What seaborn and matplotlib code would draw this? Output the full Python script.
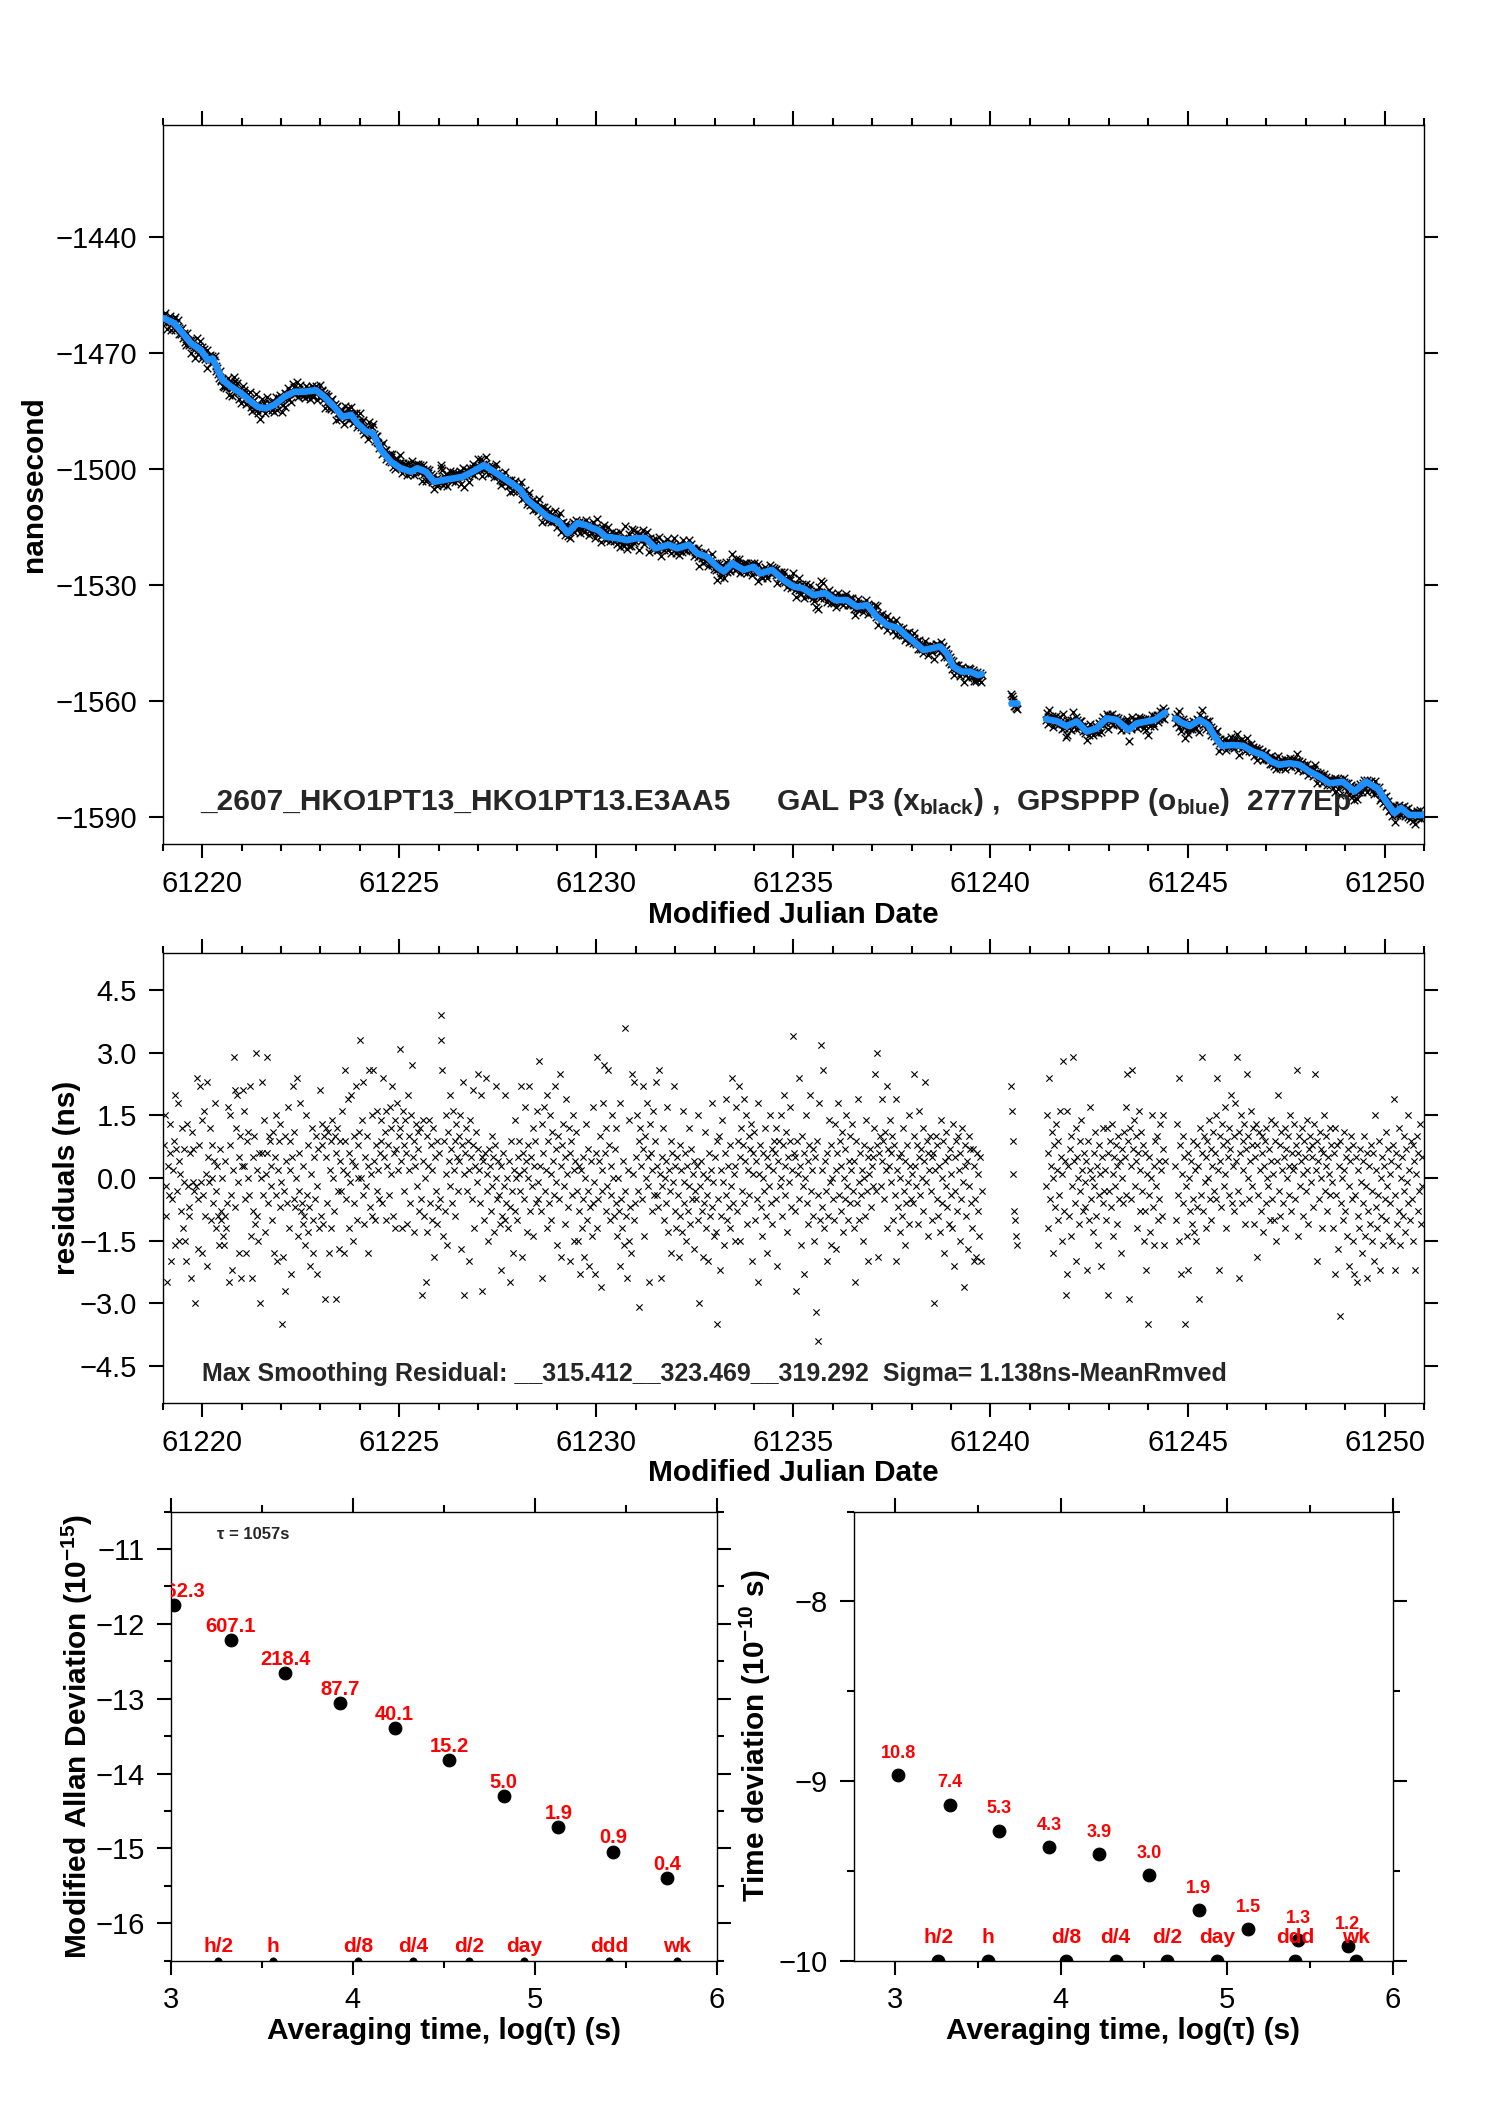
import numpy as np
import pandas as pd
import matplotlib
matplotlib.use("Agg")
import matplotlib.pyplot as plt
import seaborn as sns
from matplotlib.ticker import MultipleLocator, ScalarFormatter

# ---------------- data ----------------
# epoch grid (segments separated by data gaps)
seg_start = [61219.03, 61240.52, 61241.41, 61244.69]
epoch_step = 1.0 / 48.0

# residuals (ns) for each segment
res_a = [
 0.8, 1.5, -0.2, -0.9, -2.5, 0.3, -0.4, 1.3, 0.6, -2.0, -0.5, 0.2, 0.9, -1.6, 2.0, 0.7, -0.3, 1.8, -1.5, 0.4, 0.1, -0.8, 1.2, -1.2,
 -0.1, 0.7, -1.5, -2.0, 1.3, -0.2, -0.7, -0.9, 0.6, -2.4, 1.1, -0.1, 0.7, -0.3, -3.0, -0.2, 2.4, -1.7, -0.5, 0.8, 2.2, -0.1, -1.8, 1.4,
 -0.4, 1.6, -0.9, 0.1, 2.3, -2.1, 0.5, -0.1, 1.2, -1.0, 0.0, 0.8, -0.6, 0.4, 1.8, -0.3, -1.2, 0.3, -0.9, -1.6, 0.7, -1.0, -0.8, 0.0,
 -1.4, -1.6, -0.9, 0.4, -1.2, -0.6, 1.7, -2.5, 0.8, 1.5, -0.4, -2.2, 0.2, 2.9, 2.1, -0.7, 1.2, 2.0, -0.1, 0.5, -1.8, 1.0, -2.4, 0.3,
 2.1, 0.3, 1.6, -0.5, -1.8, 0.9, 1.1, 0.0, -0.4, 2.2, -1.4, -2.4, 0.5, -0.8, 1.0, -1.1, 3.0, 0.2, -0.9, -1.5, 0.6, -3.0, 0.0, 2.3,
 0.6, -0.4, 1.4, -1.3, 0.1, 0.6, 2.9, -0.6, 1.0, 0.9, -0.2, 0.3, -1.0, 1.1, -1.8, 0.5, -0.4, 1.5, -2.0, 0.2, 0.9, -0.7, 1.3, -0.1,
 -3.5, -1.9, -0.3, 1.0, -2.7, 0.4, -0.6, 1.7, -1.2, 0.9, 0.2, -2.3, 0.5, 2.2, -0.5, 1.1, -0.7, 0.0, 2.4, -1.4, 0.6, -0.3, 1.8, -0.8,
 -0.6, -1.1, 0.3, -0.9, -1.6, 1.5, -0.4, -1.3, 0.8, -0.7, -2.1, 0.1, 1.2, -1.0, -1.8, 0.5, -0.5, 1.0, -2.3, -0.2, 0.7, -1.2, 2.1, -0.9,
 0.8, 1.3, -1.1, 1.0, -2.9, 0.5, 1.2, -0.6, 1.1, -1.8, 0.2, 0.9, -1.2, 1.4, 0.0, -0.8, 1.0, -2.9, 0.6, 1.2, -0.3, -1.7, 0.9, 0.4,
 -0.3, 1.6, 0.2, -1.8, 0.9, 2.6, -0.5, 0.1, 1.9, -1.2, 0.6, -0.1, 2.0, 0.4, -1.5, 1.0, -0.6, 0.3, 2.2, -1.0, 0.8, 0.0, 1.1, 3.3,
 0.0, 1.4, -0.4, 2.3, -1.1, 0.5, -0.2, 1.0, -1.8, 0.3, 2.6, -0.7, 0.1, 1.5, -0.9, 2.6, 0.4, -1.0, 0.8, -0.3, 1.6, 0.2, -0.5, 0.6,
 0.9, 1.4, -0.6, 2.4, 0.5, 1.1, -1.0, 1.6, 0.3, 0.8, -0.4, 1.7, 1.2, 0.1, 2.2, -0.9, 0.6, 1.4, -1.2, 0.7, 1.8, 0.2, 1.0, 3.1,
 1.2, 0.4, -1.2, 1.6, 0.8, -0.3, 1.4, 0.6, -1.1, 2.0, 0.2, 1.0, -0.6, 1.5, 2.7, 0.5, -1.3, 0.9, 0.3, 1.3, -0.2, 0.7, 1.1, -0.8,
 1.2, -0.5, -2.8, 0.4, 1.4, -0.9, 0.0, -2.5, 1.0, -1.3, 0.3, 1.4, -0.6, 0.8, -1.0, 0.2, 1.2, -1.9, 0.5, -0.3, -1.1, 0.9, -0.7, 0.6,
 -0.5, 3.9, 3.3, 2.6, -1.4, 0.9, -0.8, 1.5, 0.1, -1.6, 1.1, 0.4, -0.2, 2.0, 0.7, -0.6, 1.6, 0.2, 0.9, -0.9, 1.3, 0.5, -0.3, 1.0,
 0.4, 1.5, -1.7, 0.8, 2.3, 0.1, -2.8, 0.6, 1.2, -0.3, 0.9, -2.0, 0.2, 1.4, 0.5, -0.5, 2.1, 0.8, -1.2, 0.3, 1.1, -0.1, 0.7, 2.5,
 0.2, -0.6, 2.0, 0.5, -2.7, 0.4, -1.0, 0.6, 2.4, -0.3, 0.1, -1.5, 0.7, 0.3, -0.8, 1.0, -0.2, 0.5, -1.3, 0.8, 2.2, 0.0, -0.5, 0.4,
 -0.4, -1.1, 0.3, -2.2, -0.9, 0.6, -0.2, -1.0, 2.0, -0.6, 0.0, -1.2, 0.4, -2.5, -0.7, 0.9, -0.3, -1.8, 0.2, -0.8, 1.4, 0.0, -1.0, 0.5,
 0.1, 0.9, -0.3, 2.2, -1.9, 0.6, 0.2, -0.5, 1.7, 0.4, -1.3, 0.8, 0.0, 2.2, -0.8, 0.5, -0.2, 1.2, -1.4, 0.3, 0.9, -0.6, 1.6, -0.1,
 -0.5, 2.8, 0.3, -0.8, 1.3, -2.4, 0.6, 1.7, -0.3, 0.2, -1.2, 2.0, 0.9, -0.6, 1.5, 0.1, -1.0, 1.1, 0.4, -0.4, 2.2, -0.1, 0.7, -1.6,
 1.0, -0.5, 2.5, 0.3, -1.9, 0.8, 1.3, -0.2, 0.5, -1.1, 1.9, 0.1, -0.7, 1.2, 0.6, -2.0, 0.9, -0.4, 1.5, 0.2, -1.5, 0.4, 1.1, -0.3,
 -1.5, 0.3, -0.8, -2.3, 0.2, -1.2, 0.5, -0.5, -1.9, 0.0, 1.3, -1.0, -0.3, 0.7, -2.1, -0.7, 0.4, -1.4, 1.7, -0.6, -0.1, -2.3, 0.6, -1.2,
 2.9, -0.5, 0.4, 1.0, -2.6, 0.2, -0.3, 1.8, 2.7, 0.6, -0.8, 1.2, -0.2, 2.6, 0.8, -1.0, 0.3, -0.4, 1.5, 0.0, -0.9, 0.7, 1.2, -0.6,
 -1.4, 0.0, -0.8, -2.1, 1.8, -0.5, -1.2, 0.4, -1.6, 3.6, -0.3, -0.9, -2.4, 0.2, -1.5, 1.4, -0.7, -1.8, 2.5, 0.1, -1.0, 2.3, -0.6, 0.5,
 1.5, -0.3, 0.9, -3.1, 1.2, 0.3, -0.5, 2.2, 0.7, -1.4, 1.0, 0.0, 1.8, -0.2, 0.5, -2.5, 1.3, 0.6, -0.8, 0.2, 1.6, -0.4, 0.9, 2.3,
 -0.4, 0.3, -0.7, 2.6, 0.1, -2.4, 0.5, -0.2, 1.2, -1.0, 0.0, 0.4, -0.6, 1.7, -1.3, 0.2, -0.3, 0.9, -1.8, 0.6, -0.1, 2.2, -0.8, 0.3,
 -1.2, 0.5, -0.4, -1.9, 0.8, -0.9, 0.2, -1.3, 1.6, -0.6, -0.1, 0.6, -1.5, 0.3, -0.8, 1.2, -0.2, -1.1, 0.7, -0.5, 0.1, -1.7, 0.4, -0.3,
 -0.5, 0.3, -1.0, 1.5, -3.0, -0.2, 0.4, -0.8, -1.9, 0.1, -0.6, 1.1, -1.2, 0.0, -0.4, -2.0, 0.6, -0.9, 0.2, 1.8, -0.7, -0.1, -1.4, 0.5,
 -1.3, 0.9, -3.5, -0.5, 1.0, -2.2, 0.2, -0.9, 1.4, -0.1, -1.6, 0.6, -0.4, 1.9, -1.0, 0.3, -0.7, -1.2, 0.8, -0.2, 2.4, -0.6, 0.1, -1.5,
 0.3, 1.7, -0.8, 0.9, 2.2, -1.5, 0.5, 1.2, -0.3, 0.8, 1.9, -0.6, 0.4, 1.5, -1.1, 0.2, 1.0, -0.4, 0.7, 1.3, -2.0, 0.6, 0.1, 1.1,
 -1.0, 0.4, -0.5, 1.8, -2.5, 0.1, 0.8, -0.7, -1.4, 0.6, 0.0, -0.3, 1.2, -0.9, 0.5, -1.8, 0.3, -0.2, 1.5, -0.6, 0.7, -1.1, 0.2, 0.9,
 0.6, -0.5, 1.2, -2.1, 0.4, 0.9, -0.2, 1.5, 0.0, -0.9, 0.8, 2.0, -0.4, 0.3, 1.1, -1.3, 0.5, -0.1, 0.9, 1.7, -0.7, 0.2, 3.4, 0.6,
 -0.8, 0.5, -2.7, 0.9, 0.1, 2.4, -0.5, 0.3, -1.6, 1.0, -0.2, 0.6, -2.3, 0.0, 1.5, -0.6, 0.4, -1.1, 0.8, 2.0, -0.3, 0.2, -0.9, 0.7,
 -1.5, 0.5, -3.2, 0.9, -0.4, -3.9, 1.8, -1.0, 3.2, 0.2, -0.7, 2.6, -1.2, 0.4, -0.3, -2.0, 0.6, -0.9, 1.4, -0.1, -1.6, 0.8, 0.0, -0.5,
 -1.0, 1.3, 0.2, -1.7, 0.6, 1.8, -0.4, 0.9, -0.8, 0.3, 1.1, -1.3, 0.0, 0.7, -0.5, 1.5, -0.2, -1.0, 0.4, 1.0, -0.6, 0.2, 1.3, -0.3,
 -1.2, 0.4, -2.5, 0.9, -0.6, 1.9, -0.1, -1.0, 0.6, -0.4, 0.2, -1.5, 0.8, 0.0, -0.9, 1.4, -0.3, 0.5, -2.0, 0.1, 0.7, -0.7, 0.3, -0.2,
 0.5, 1.2, 2.5, -0.3, 0.8, 3.0, -1.9, 0.6, 1.0, -0.2, 0.4, 1.9, 0.9, -0.5, 1.1, 0.2, 2.2, -1.2, 0.7, 0.3, 1.4, -0.1, 0.6, 1.0,
 -1.0, 0.8, -0.4, 1.9, -2.0, 0.2, -0.7, 0.5, -1.3, 0.0, 0.6, -0.9, 1.2, -0.3, -1.6, 0.4, -0.6, 0.8, -0.1, -1.1, 1.5, 0.3, -0.5, 0.1,
 -0.6, 1.0, 2.5, 0.3, -0.2, 0.8, -1.1, 0.5, 1.6, -0.4, 0.7, 0.0, 1.2, -0.8, 0.4, 2.3, -0.1, 0.9, -1.4, 0.6, 0.2, 1.0, -0.3, 0.5,
 -1.0, 0.6, -3.0, 0.2, 1.0, -0.5, 0.8, -0.9, 0.3, -1.3, 1.4, 0.0, -0.6, 0.9, -1.8, 0.4, -0.2, 1.1, -0.7, 0.5, -1.1, 0.7, 0.1, -0.4,
 -1.2, 1.3, -2.1, 0.5, -0.3, 0.9, -0.8, 1.0, 0.2, -1.5, 0.6, -0.5, 1.2, -0.1, -2.6, 0.8, 0.3, -0.9, 0.4, -1.7, 1.0, -0.2, 0.7, -0.6,
 -1.2, 0.7, -2.0, 0.3, -0.5, -1.9, 0.6, -0.8, 0.1, -1.4, 0.5, -2.0, -0.3,
]
res_b = [2.2, 1.6, 0.9, 0.1, -0.8, -1.0, -1.4, -1.6]
res_c = [
 -0.2, 1.5, -1.2, 0.6, 2.4, -0.5, 0.3, 1.1, -1.8, 0.0, 0.8, -0.7, 1.3, 0.2, -1.0, 0.9, -0.4, 1.6, 0.5, -1.5, 0.1, 2.8, -0.8, 0.4,
 -2.8, -2.3, 1.6, 0.3, -0.9, 0.7, -1.4, 1.0, -0.2, 2.9, 0.4, -0.6, 1.2, -2.0, 0.5, 0.0, -1.1, 0.9, -0.3, 1.4, 0.2, -0.8, 0.6, -0.1,
 -0.7, 0.4, -2.2, 0.9, -1.0, 0.2, 1.7, -0.5, 0.0, -1.3, 0.6, -0.2, 1.1, -0.9, 0.3, -1.6, 0.8, -0.4, 0.1, -2.1, 0.5, -0.6, 1.2, -0.3,
 0.2, -1.0, 1.2, -2.8, 0.6, -0.3, 0.9, -0.7, 1.3, 0.1, -1.4, 0.5, -0.2, 0.8, -1.1, 0.3, 1.0, -0.5, 0.4, -1.8, 0.7, 0.0, -0.6, 1.1,
 0.5, 1.7, -0.4, 2.5, 0.9, -2.9, 1.2, 0.3, -0.5, 2.6, 0.7, 1.4, -0.2, 0.4, 1.0, -1.2, 0.6, 1.6, -0.8, 0.2, 1.1, -0.3, 0.8, -1.5,
 -0.8, 0.6, -2.2, 0.1, -3.5, -0.4, 0.5, -1.3, 0.0, 1.5, -0.7, 0.3, -1.6, 0.9, -0.2, 1.0, -1.0, 0.4, -0.5, 1.3, 0.2, -0.9, 0.7, 1.5,
 -1.6, 0.4,
]
res_d = [
 0.3, -1.0, 1.3, -0.4, 2.4, -1.5, 0.8, -2.3, 0.1, 1.0, -0.6, 0.5, -3.5, -0.2, -1.4, 0.6, -2.2, 0.0, -0.8, 0.4, -1.1, 0.9, -0.5, -1.3,
 0.2, -1.5, 0.8, -0.7, 0.3, -2.9, 1.2, -0.4, 2.9, 0.6, -0.8, 1.0, -0.1, 0.5, -1.2, 0.9, 0.0, 1.4, -0.5, 0.7, -1.0, 0.3, 1.1, -0.3,
 0.6, 1.5, -0.5, 2.4, 0.2, -2.2, 1.0, 0.4, -0.7, 1.3, 0.8, -0.2, 1.7, 0.1, -1.2, 0.9, 0.5, 1.2, -0.4, 0.7, 2.0, -0.6, 0.3, 1.0,
 -0.8, 1.8, 0.4, 2.9, -0.3, 1.1, -2.4, 0.6, 1.5, -0.6, 0.9, 0.2, 1.3, -1.1, 0.7, 2.5, 0.0, 1.0, -0.5, 0.4, 1.6, -0.2, 0.8, 1.2,
 -1.1, 0.5, 1.3, -1.9, 0.8, -0.4, 1.1, 0.2, -0.8, 0.6, 1.0, -1.3, 0.3, 0.9, -0.6, 1.2, 0.0, -0.2, 0.7, -1.0, 0.4, 1.4, -0.5, 0.1,
 -1.0, 0.9, 1.3, -1.5, 0.4, 2.0, -0.3, 0.8, -0.9, 1.1, 0.2, -0.6, 0.5, 1.2, -1.2, 0.7, 0.0, 1.0, -0.4, 0.3, 1.5, -0.8, 0.6, 0.2,
 0.3, 1.3, -0.5, 0.8, 2.6, -1.4, 0.6, 1.0, -0.2, 0.4, 1.2, 0.1, -0.9, 0.9, 0.5, -0.3, 1.4, 0.2, -1.1, 0.7, 1.0, -0.1, 0.5, 0.8,
 -0.7, 1.3, 2.5, 0.2, -2.0, 0.9, 0.4, -0.5, 1.1, 0.0, 0.7, -1.2, 0.6, 1.5, -0.3, 0.3, 1.0, -0.8, 0.5, 0.1, 1.2, -0.4, 0.8, -0.1,
 -1.2, 0.6, -2.3, 1.2, -0.4, 0.8, -1.7, 0.3, -3.3, 0.9, -0.6, 0.0, -1.0, 1.1, 0.2, -0.8, 0.5, -1.4, 0.7, -0.2, -2.1, 0.4, 1.0, -0.5,
 -1.5, 0.8, -2.3, -0.4, 0.5, -2.5, -0.9, 0.2, -1.2, 0.7, -0.1, -1.8, 0.4, -0.6, 1.0, -1.4, -0.2, 0.6, -2.4, -0.8, 0.3, -1.1, 0.8, -0.3,
 -1.5, 0.6, -2.0, 1.5, -0.7, 0.2, -1.2, -0.4, 0.9, -2.2, 0.0, -0.9, 0.5, -1.6, 0.3, -0.5, 1.1, -1.0, -0.2, 0.7, -1.4, 0.1, -0.6, 0.4,
 -1.5, 0.8, 1.9, -2.2, -0.4, 0.6, -1.1, 0.3, -0.8, 1.2, -1.6, 0.0, 0.5, -0.9, 1.0, -0.3, -1.3, 0.7, -0.1, 1.5, -0.6, 0.2, -1.0, 0.9,
 -0.5, 0.8, -1.5, 0.4, -2.2, 0.1, 1.0, -0.8, 0.6, -0.3, 1.3, -1.1, 0.5, -0.2,
]

# smoothed clock offset (blue, ns), knots
smooth_t_a = [61219.03, 61219.30, 61219.51, 61219.72, 61219.97, 61220.14, 61220.27, 61220.40, 61220.52, 61220.73,
              61220.99, 61221.20, 61221.41, 61221.62, 61221.83, 61222.09, 61222.34, 61222.59, 61222.89, 61223.10,
              61223.35, 61223.56, 61223.78, 61223.94, 61224.16, 61224.33, 61224.54, 61224.79, 61225.04, 61225.30,
              61225.46, 61225.68, 61225.89, 61226.14, 61226.39, 61226.61, 61226.86, 61227.15, 61227.41, 61227.66,
              61227.91, 61228.08, 61228.25, 61228.51, 61228.76, 61229.05, 61229.27, 61229.52, 61229.73, 61229.90,
              61230.05, 61230.24, 61230.53, 61230.79, 61231.00, 61231.25, 61231.50, 61231.84, 61232.05, 61232.35,
              61232.56, 61232.81, 61233.07, 61233.24, 61233.45, 61233.74, 61233.99, 61234.16, 61234.46, 61234.75,
              61235.01, 61235.26, 61235.51, 61235.81, 61236.06, 61236.36, 61236.61, 61236.87, 61237.12, 61237.37,
              61237.67, 61237.84, 61238.05, 61238.30, 61238.55, 61238.72, 61238.89, 61239.06, 61239.27, 61239.48,
              61239.69, 61239.78]
smooth_v_a = [-1461.0, -1462.3, -1464.9, -1467.5, -1469.2, -1471.8, -1471.4, -1474.4, -1477.0, -1478.7,
              -1480.4, -1482.2, -1483.9, -1484.3, -1483.4, -1481.3, -1480.0, -1480.0, -1479.6, -1481.3,
              -1483.9, -1486.5, -1486.0, -1488.2, -1490.3, -1490.7, -1495.1, -1498.1, -1499.8, -1500.7,
              -1499.8, -1500.7, -1503.3, -1502.8, -1502.4, -1502.0, -1500.7, -1499.0, -1500.7, -1502.4,
              -1504.1, -1505.4, -1508.0, -1510.2, -1512.3, -1513.6, -1516.6, -1514.0, -1514.5, -1515.3,
              -1515.8, -1517.5, -1517.9, -1518.4, -1517.9, -1517.9, -1520.5, -1519.6, -1520.5, -1519.6,
              -1521.8, -1522.7, -1525.3, -1526.5, -1524.4, -1526.1, -1525.3, -1527.0, -1526.1, -1528.7,
              -1530.4, -1530.9, -1532.6, -1532.1, -1533.9, -1533.9, -1535.6, -1535.2, -1538.2, -1540.3,
              -1541.2, -1542.9, -1544.6, -1546.8, -1546.3, -1545.9, -1547.6, -1551.1, -1552.4, -1552.4,
              -1553.3, -1553.0]
smooth_t_b = [61240.52, 61240.67]
smooth_v_b = [-1560.4, -1560.4]
smooth_t_c = [61241.41, 61241.68, 61241.93, 61242.19, 61242.44, 61242.69, 61242.95, 61243.20, 61243.50, 61243.71,
              61243.96, 61244.17, 61244.43]
smooth_v_c = [-1564.7, -1565.2, -1566.5, -1565.3, -1567.9, -1567.1, -1564.5, -1564.9, -1567.5, -1565.8,
              -1565.3, -1564.9, -1563.0]
smooth_t_d = [61244.69, 61244.85, 61245.06, 61245.31, 61245.52, 61245.69, 61245.86, 61246.15, 61246.41, 61246.66,
              61246.92, 61247.13, 61247.34, 61247.59, 61247.84, 61248.10, 61248.35, 61248.60, 61248.94, 61249.24,
              61249.53, 61249.83, 61250.04, 61250.25, 61250.42, 61250.63, 61250.96]
smooth_v_d = [-1564.5, -1565.6, -1566.5, -1564.9, -1566.2, -1569.2, -1571.6, -1571.4, -1571.6, -1573.1,
              -1574.0, -1575.7, -1576.5, -1576.1, -1576.5, -1578.3, -1579.6, -1581.3, -1580.9, -1583.4,
              -1580.9, -1582.7, -1586.0, -1589.0, -1587.7, -1589.5, -1589.5]

# stability panels
log_tau = [3.02, 3.33, 3.63, 3.93, 4.23, 4.53, 4.83, 5.13, 5.43, 5.73]
mdev_log = [-11.754, -12.217, -12.661, -13.057, -13.397, -13.818, -14.301, -14.721, -15.046, -15.398]
mdev_labels = ["1762.3", "607.1", "218.4", "87.7", "40.1", "15.2", "5.0", "1.9", "0.9", "0.4"]
tdev_log = [-8.967, -9.131, -9.276, -9.367, -9.409, -9.523, -9.721, -9.824, -9.886, -9.921]
tdev_labels = ["10.8", "7.4", "5.3", "4.3", "3.9", "3.0", "1.9", "1.5", "1.3", "1.2"]
span_logtau = [3.26, 3.56, 4.03, 4.33, 4.64, 4.94, 5.41, 5.78]
span_names = ["h/2", "h", "d/8", "d/4", "d/2", "day", "ddd", "wk"]

# ---------------- assemble tables ----------------
res_segs = [res_a, res_b, res_c, res_d]
smooth_segs = [(smooth_t_a, smooth_v_a), (smooth_t_b, smooth_v_b),
               (smooth_t_c, smooth_v_c), (smooth_t_d, smooth_v_d)]
pts = []
lines = []
for i, (t0, res, (kt, kv)) in enumerate(zip(seg_start, res_segs, smooth_segs)):
    t = t0 + np.arange(len(res)) * epoch_step
    sm = np.interp(t, kt, kv)
    pts.append(pd.DataFrame({"mjd": t, "res": res, "clock": sm + np.asarray(res), "seg": i}))
    lines.append(pd.DataFrame({"mjd": kt, "ns": kv, "seg": i}))
pts = pd.concat(pts, ignore_index=True)
lines = pd.concat(lines, ignore_index=True)

# ---------------- style ----------------
sns.set_theme(style="ticks")
plt.rcParams["font.family"] = ["Liberation Sans", "DejaVu Sans"]
plt.rcParams.update({
    "mathtext.fontset": "custom",
    "mathtext.rm": "Liberation Sans",
    "mathtext.bf": "Liberation Sans:bold",
    "mathtext.it": "Liberation Sans:italic",
    "axes.unicode_minus": True,
    "axes.facecolor": "white",
    "figure.facecolor": "white",
})

W, H = 1488, 2105
fig = plt.figure(figsize=(W / 100, H / 100), dpi=100)

def px_axes(l, t, r, b):
    return fig.add_axes([l / W, 1 - b / H, (r - l) / W, (b - t) / H])

def style_axis(ax, xmaj, xmin, ymaj, ymin):
    ax.xaxis.set_major_locator(MultipleLocator(xmaj))
    if xmin:
        ax.xaxis.set_minor_locator(MultipleLocator(xmin))
    ax.yaxis.set_major_locator(MultipleLocator(ymaj))
    if ymin:
        ax.yaxis.set_minor_locator(MultipleLocator(ymin))
    for a in (ax.xaxis, ax.yaxis):
        a.set_major_formatter(ScalarFormatter(useOffset=False))
    ax.tick_params(which="both", direction="out", top=True, right=True,
                   labeltop=False, labelright=False, width=1.5, color="black",
                   labelcolor="black", labelsize=21)
    ax.tick_params(which="major", length=10, pad=8.5)
    ax.tick_params(which="minor", length=5)
    for s in ax.spines.values():
        s.set_visible(True)
        s.set_linewidth(1.0)
        s.set_color("black")
    ax.grid(False)

label_kw = dict(fontsize=21.5, fontweight="bold", color="black")

# ---- top panel: clock offsets ----
ax1 = px_axes(162.7, 125, 1424, 844)
sns.scatterplot(data=pts, x="mjd", y="clock", marker="x", color="black", s=30,
                linewidth=1.0, ax=ax1, legend=False, zorder=2)
sns.lineplot(data=lines, x="mjd", y="ns", units="seg", estimator=None, color="#1E90FF",
             linewidth=4.8, ax=ax1, legend=False, zorder=3, sort=False)
ax1.set_xlim(61219.0, 61251.0)
ax1.set_ylim(-1597.0, -1411.0)
style_axis(ax1, 5, 1, 30, None)
ax1.set_xlabel("Modified Julian Date", **label_kw)
ax1.set_ylabel("nanosecond", **label_kw)
ax1.xaxis.set_label_coords(0.5, -0.079)
ax1.yaxis.set_label_coords(-0.091, 0.5)
ax1.text(0.0296, 0.047, "_2607_HKO1PT13_HKO1PT13.E3AA5", transform=ax1.transAxes,
         fontsize=21.5, fontweight="bold", ha="left", va="baseline", zorder=5)
ax1.text(0.486, 0.047,
         r"GAL P3 (x$_{\mathbf{black}}$) ,  GPSPPP (o$_{\mathbf{blue}}$)  2777Ep",
         transform=ax1.transAxes, fontsize=21.5, fontweight="bold", ha="left",
         va="baseline", zorder=5)

# ---- middle panel: residuals ----
ax2 = px_axes(162.7, 952.8, 1424, 1403.3)
sns.scatterplot(data=pts, x="mjd", y="res", marker="x", color="black", s=20,
                linewidth=0.8, ax=ax2, legend=False)
ax2.set_xlim(61219.0, 61251.0)
ax2.set_ylim(-5.4, 5.4)
style_axis(ax2, 5, 1, 1.5, None)
ax2.set_xlabel("Modified Julian Date", **label_kw)
ax2.set_ylabel("residuals (ns)", **label_kw)
ax2.xaxis.set_label_coords(0.5, -0.123)
ax2.yaxis.set_label_coords(-0.065, 0.5)
ax2.text(0.031, 0.0484,
         "Max Smoothing Residual: __315.412__323.469__319.292  Sigma= 1.138ns-MeanRmved",
         transform=ax2.transAxes, fontsize=18, fontweight="bold", ha="left", va="baseline")

# ---- bottom left: modified Allan deviation ----
ax3 = px_axes(170.8, 1511.6, 716.6, 1960.6)
sns.scatterplot(x=log_tau, y=mdev_log, color="black", s=85, edgecolor="black",
                ax=ax3, legend=False, zorder=3)
sns.scatterplot(x=span_logtau, y=[-16.5] * len(span_logtau), color="black", s=28,
                edgecolor="black", ax=ax3, legend=False, zorder=3)
ax3.set_xlim(3, 6)
ax3.set_ylim(-16.5, -10.5)
style_axis(ax3, 1, 0.5, 1, 0.5)
for x, y, s in zip(log_tau, mdev_log, mdev_labels):
    ax3.annotate(s, (x, y), xytext=(0, 6), textcoords="offset points", ha="center",
                 va="baseline", color="red", fontsize=14.5, fontweight="bold", clip_on=True)
for x, s in zip(span_logtau, span_names):
    ax3.annotate(s, (x, -16.5), xytext=(0, 6), textcoords="offset points", ha="center",
                 va="baseline", color="red", fontsize=15, fontweight="bold")
ax3.text(0.085, 0.939, "τ = 1057s", transform=ax3.transAxes, fontsize=12,
         fontweight="bold", ha="left", va="baseline")
ax3.set_xlabel("Averaging time, log(τ) (s)", **label_kw)
ax3.set_ylabel(r"Modified Allan Deviation (10$^{\mathbf{-15}}$)", **label_kw)
ax3.xaxis.set_label_coords(0.5, -0.126)
ax3.yaxis.set_label_coords(-0.138, 0.5)

# ---- bottom right: time deviation ----
ax4 = px_axes(853.5, 1511.6, 1392.7, 1960.6)
sns.scatterplot(x=log_tau, y=tdev_log, color="black", s=85, edgecolor="black",
                ax=ax4, legend=False, zorder=3)
sns.scatterplot(x=span_logtau, y=[-10.0] * len(span_logtau), color="black", s=85,
                edgecolor="black", ax=ax4, legend=False, zorder=3)
ax4.set_xlim(2.75, 6)
ax4.set_ylim(-10.0, -7.5)
style_axis(ax4, 1, 0.5, 1, 0.5)
for x, y, s in zip(log_tau, tdev_log, tdev_labels):
    ax4.annotate(s, (x, y), xytext=(0, 12.5), textcoords="offset points", ha="center",
                 va="baseline", color="red", fontsize=13, fontweight="bold", clip_on=True)
for x, s in zip(span_logtau, span_names):
    ax4.annotate(s, (x, -10.0), xytext=(0, 12.5), textcoords="offset points", ha="center",
                 va="baseline", color="red", fontsize=15, fontweight="bold")
ax4.set_xlabel("Averaging time, log(τ) (s)", **label_kw)
ax4.set_ylabel(r"Time deviation (10$^{\mathbf{-10}}$ s)", **label_kw)
ax4.xaxis.set_label_coords(0.5, -0.126)
ax4.yaxis.set_label_coords(-0.150, 0.5)

fig.savefig("out.png", dpi=100, facecolor="white")
